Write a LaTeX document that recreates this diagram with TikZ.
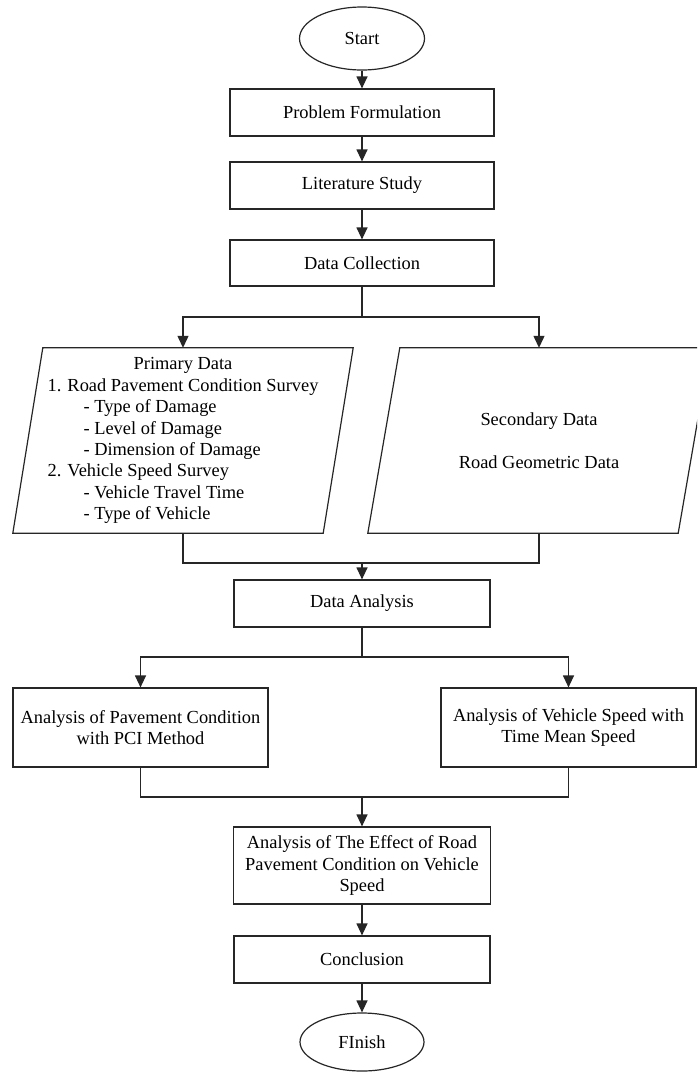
\documentclass[tikz,border=0pt]{standalone}
\usepackage{fontspec}
\setmainfont{Liberation Serif}
\usetikzlibrary{arrows.meta,shapes.geometric,calc}
\begin{document}
\begin{tikzpicture}[x=1pt,y=-1pt,
  every node/.style={font=\fontsize{18.4}{21.4}\selectfont, inner sep=0pt, text=black},
  box/.style={draw=black!85, line width=1.2pt, rectangle, align=center},
  term/.style={draw=black!85, line width=1.2pt, ellipse},
  conn/.style={draw=black!85, line width=1.2pt},
  arr/.style={conn, -{Triangle[length=12pt,width=11pt]}}]
\useasboundingbox (0,0) rectangle (697,1072);
\clip (0,0) rectangle (697,1072);
\fill[white] (0,0) rectangle (697,1072);

% nodes
\node[term, minimum width=125pt, minimum height=63pt] (start) at (362,38.5) {Start};
\node[box, minimum width=264pt, minimum height=47pt] (prob) at (362,112.5) {Problem Formulation};
\node[box, minimum width=264pt, minimum height=47pt] (lit) at (362,185.5) {Literature Study};
\node[box, minimum width=264pt, minimum height=46pt] (dc) at (362,263) {Data Collection};

\node[minimum width=310pt, minimum height=185pt] (prim) at (183,440.5) {%
  \begin{tabular}{@{}l@{}}
  \multicolumn{1}{@{}c@{}}{Primary Data}\\
  1. Road Pavement Condition Survey\\
  \hspace{36pt}- Type of Damage\\
  \hspace{36pt}- Level of Damage\\
  \hspace{36pt}- Dimension of Damage\\
  2. Vehicle Speed Survey\\
  \hspace{36pt}- Vehicle Travel Time\\
  \hspace{36pt}- Type of Vehicle
  \end{tabular}};
\draw[conn] ($(prim.north west)+(15,0)$) -- ($(prim.north east)+(15,0)$) -- ($(prim.south east)+(-15,0)$) -- ($(prim.south west)+(-15,0)$) -- cycle;

\node[minimum width=310pt, minimum height=185pt, align=center] (sec) at (539,440.5) {Secondary Data\\[21.4pt]Road Geometric Data};
\draw[conn] ($(sec.north west)+(16,0)$) -- ($(sec.north east)+(16,0)$) -- ($(sec.south east)+(-16,0)$) -- ($(sec.south west)+(-16,0)$) -- cycle;

\node[box, minimum width=256pt, minimum height=47pt] (da) at (362,603.5) {Data Analysis};
\node[box, minimum width=255pt, minimum height=79pt] (pci) at (140.5,727.5) {Analysis of Pavement Condition\\with PCI Method};
\node[box, minimum width=255pt, minimum height=79pt] (tms) at (568.5,727.5) {Analysis of Vehicle Speed with\\Time Mean Speed};
\node[box, minimum width=257pt, minimum height=77pt] (eff) at (362,865.5) {Analysis of The Effect of Road\\Pavement Condition on Vehicle\\Speed};
\node[box, minimum width=256pt, minimum height=47pt] (concl) at (362,959.5) {Conclusion};
\node[term, minimum width=124pt, minimum height=58pt] (fin) at (362,1042) {FInish};

% junction coordinates
\coordinate (s1) at (362,317);
\coordinate (j1) at (362,563);
\coordinate (s2) at (362,657);
\coordinate (j2) at (362,797);

% connectors
\draw[arr] (start.south) -- (prob.north);
\draw[arr] (prob.south) -- (lit.north);
\draw[arr] (lit.south) -- (dc.north);
\draw[conn] (dc.south) -- (s1);
\draw[arr] (s1) -| (prim.north);
\draw[arr] (s1) -| (sec.north);
\draw[conn] (prim.south) |- (j1);
\draw[conn] (sec.south) |- (j1);
\draw[arr] (j1) -- (da.north);
\draw[conn] (da.south) -- (s2);
\draw[arr] (s2) -| (pci.north);
\draw[arr] (s2) -| (tms.north);
\draw[conn] (pci.south) |- (j2);
\draw[conn] (tms.south) |- (j2);
\draw[arr] (j2) -- (eff.north);
\draw[arr] (eff.south) -- (concl.north);
\draw[arr] (concl.south) -- (fin.north);
\end{tikzpicture}
\end{document}
